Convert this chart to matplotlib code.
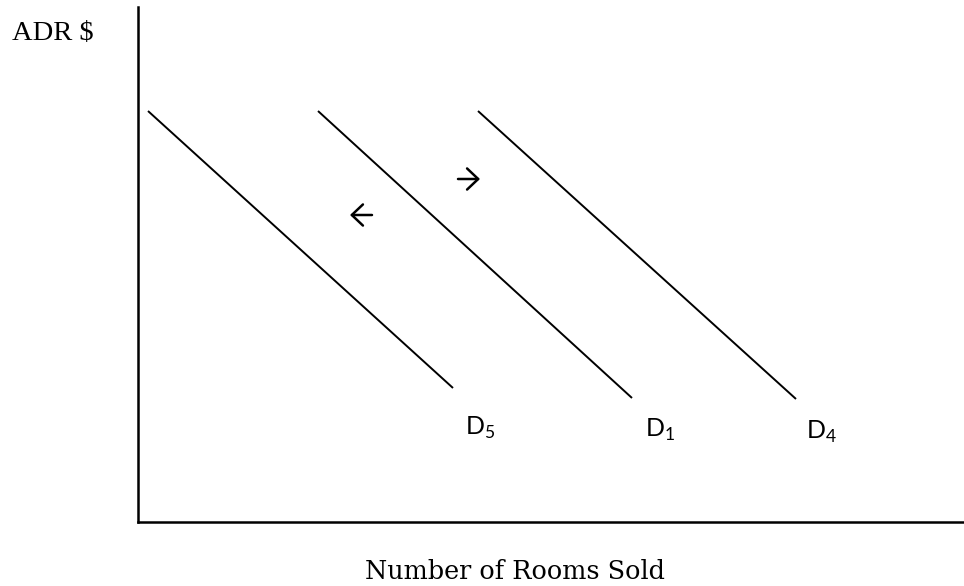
import matplotlib
matplotlib.use("Agg")
import matplotlib.pyplot as plt

# =========================
# Demand curves (quantity, price) in chart units
# =========================
curve_names = ["D5", "D1", "D4"]
curve_labels = ["5", "1", "4"]
q_start = [10, 180, 340]
q_end = [315, 494, 658]
p_start = [411, 411, 411]
p_end = [134, 124, 123]

# label positions (quantity, price at baseline)
label_q = [327, 507, 668]
label_p = [87, 85, 83]

# shift arrows: tail -> tip
arrow_tail_q = [320, 234]
arrow_tip_q = [342, 212]
arrow_p = [343, 307]

plt.rcParams["mathtext.fontset"] = "custom"
plt.rcParams["mathtext.rm"] = "Lato"

fig = plt.figure(figsize=(9.64, 5.86), dpi=100)
ax = fig.add_axes([138 / 964, 64 / 586, 826 / 964, 515 / 586])
ax.set_xlim(0, 826)
ax.set_ylim(0, 515)

for i in range(len(curve_names)):
    ax.plot([q_start[i], q_end[i]], [p_start[i], p_end[i]],
            color="black", linewidth=1.4, solid_capstyle="butt")
    ax.text(label_q[i], label_p[i], "D$_{\\mathregular{" + curve_labels[i] + "}}$",
            fontsize=18, family="Lato", ha="left", va="baseline")

for a, b, p in zip(arrow_tail_q, arrow_tip_q, arrow_p):
    ax.annotate("", xy=(b, p), xytext=(a, p),
                arrowprops=dict(arrowstyle="->,head_length=0.4,head_width=0.38",
                                lw=1.8, color="black", mutation_scale=20,
                                shrinkA=0, shrinkB=0))

for s in ["top", "right"]:
    ax.spines[s].set_visible(False)
ax.spines["left"].set_linewidth(1.8)
ax.spines["bottom"].set_linewidth(1.8)
ax.set_xticks([])
ax.set_yticks([])

fig.text(12 / 964, 1 - 40 / 586, "ADR $", fontsize=20.5, family="Liberation Serif",
         ha="left", va="baseline")
fig.text(515 / 964, 1 - 579 / 586, "Number of Rooms Sold", fontsize=18.4,
         family="DejaVu Serif", ha="center", va="baseline")

fig.savefig("out.png", dpi=100)
